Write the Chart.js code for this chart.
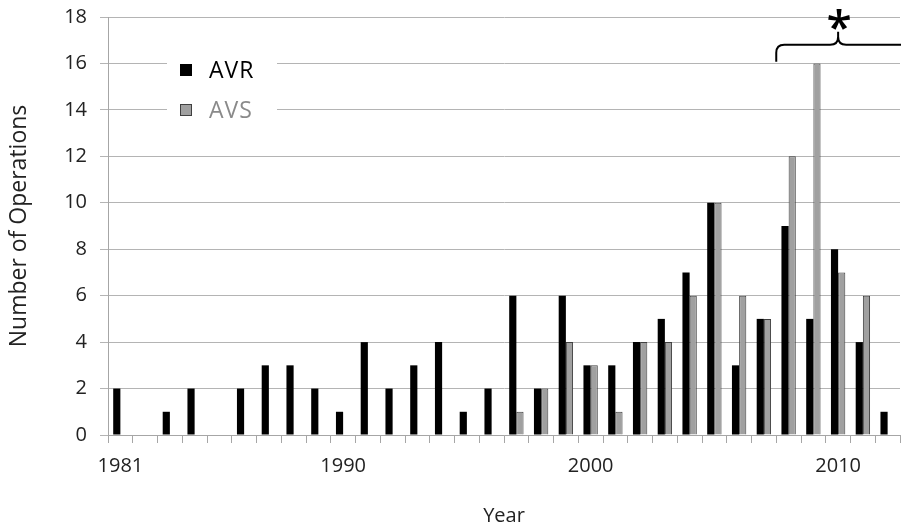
<!DOCTYPE html>
<html>
<head>
<meta charset="utf-8">
<script src="https://cdn.jsdelivr.net/npm/chart.js@4/dist/chart.umd.min.js"></script>
<style>
  html, body { margin: 0; padding: 0; background: #fff; }
  #wrap { width: 901px; height: 531px; }
</style>
</head>
<body>
<div id="wrap"><canvas id="chart"></canvas></div>
<script>
const years = ['1981','1982','1983','1984','1985','1986','1987','1988','1989','1990',
  '1991','1992','1993','1994','1995','1996','1997','1998','1999','2000',
  '2001','2002','2003','2004','2005','2006','2007','2008','2009','2010','2011','2012'];
const avr = [2,0,1,2,0,2,3,3,2,1, 4,2,3,4,1,2,6,2,6,3, 3,4,5,7,10,3,5,9,5,8,4,1];
const avs = [0,0,0,0,0,0,0,0,0,0, 0,0,0,0,0,0,1,2,4,3, 1,4,4,6,10,6,5,12,16,7,6,0];
const shownYears = ['1981', '1990', '2000', '2010'];

// bracket over 2008-2012 with the asterisk
const bracketFrom = 27;   // category index of 2008 (left edge)
const bracketTo = 31;     // category index of 2012
const bracketLevel = 16.8;

const FONT = "'Open Sans', sans-serif";

const overlay = {
  id: 'overlay',
  afterDatasetsDraw(chart) {
    const ctx = chart.ctx;
    const x = chart.scales.x, y = chart.scales.y;
    const area = chart.chartArea;
    const half = (x.getPixelForValue(1) - x.getPixelForValue(0)) / 2;

    // legend inside the plot, on white
    ctx.save();
    ctx.fillStyle = '#fff';
    ctx.fillRect(167, 50, 110, 76);
    ctx.fillStyle = '#000';
    ctx.fillRect(180, 64, 12, 12);
    ctx.fillStyle = '#a0a0a0';
    ctx.fillRect(180, 104, 12, 12);
    ctx.strokeStyle = '#404040';
    ctx.lineWidth = 1;
    ctx.strokeRect(180.5, 104.5, 11, 11);
    ctx.font = '23px ' + FONT;
    ctx.letterSpacing = '1px';
    ctx.textBaseline = 'middle';
    ctx.fillStyle = '#000';
    ctx.fillText('AVR', 209, 71);
    ctx.fillStyle = '#8a8a8a';
    ctx.fillText('AVS', 209, 111);
    ctx.letterSpacing = '0px';

    // bracket
    const x0 = x.getPixelForValue(bracketFrom) - half;
    const x1 = area.right + 2;
    const xm = (x0 + x.getPixelForValue(bracketTo) + half) / 2;
    const yl = y.getPixelForValue(bracketLevel);
    ctx.strokeStyle = '#000';
    ctx.lineWidth = 2;
    ctx.beginPath();
    ctx.moveTo(x0, yl + 17);
    ctx.lineTo(x0, yl + 8);
    ctx.quadraticCurveTo(x0, yl, x0 + 8, yl);
    ctx.lineTo(xm - 8, yl);
    ctx.quadraticCurveTo(xm, yl, xm, yl - 8);
    ctx.lineTo(xm, yl - 13);
    ctx.moveTo(xm, yl - 8);
    ctx.quadraticCurveTo(xm, yl, xm + 8, yl);
    ctx.lineTo(x1, yl);
    ctx.stroke();

    ctx.fillStyle = '#000';
    ctx.font = '600 46px ' + FONT;
    ctx.textAlign = 'center';
    ctx.textBaseline = 'middle';
    ctx.fillText('*', xm + 1, yl - 15);
    ctx.restore();
  }
};

new Chart(document.getElementById('chart'), {
  type: 'bar',
  data: {
    labels: years,
    datasets: [
      {
        label: 'AVR',
        data: avr,
        backgroundColor: '#000',
        borderWidth: 0,
        categoryPercentage: 0.58,
        barPercentage: 1.0
      },
      {
        label: 'AVS',
        data: avs,
        backgroundColor: '#a0a0a0',
        borderColor: '#404040',
        borderWidth: 1,
        categoryPercentage: 0.58,
        barPercentage: 1.0
      }
    ]
  },
  options: {
    responsive: true,
    maintainAspectRatio: false,
    animation: false,
    layout: { padding: { top: 17, right: 1 } },
    plugins: {
      legend: { display: false },
      tooltip: { enabled: false }
    },
    scales: {
      x: {
        offset: true,
        grid: {
          offset: true,
          drawOnChartArea: false,
          drawTicks: true,
          tickLength: 8,
          color: '#a6a6a6'
        },
        border: { color: '#a6a6a6', width: 1 },
        ticks: {
          autoSkip: false,
          maxRotation: 0,
          padding: 11,
          color: '#222',
          font: { family: FONT, size: 20 },
          callback: function (value) {
            const lab = this.getLabelForValue(value);
            return shownYears.includes(lab) ? lab : '';
          }
        },
        title: {
          display: true,
          text: 'Year',
          color: '#222',
          font: { family: FONT, size: 20 },
          padding: { top: 0, bottom: 3 }
        },
        afterFit(scale) { scale.height = 96; }
      },
      y: {
        min: 0,
        max: 18,
        grid: {
          color: '#b4b4b4',
          tickLength: 8
        },
        border: { color: '#a6a6a6', width: 1 },
        ticks: {
          stepSize: 2,
          padding: 13,
          color: '#222',
          font: { family: FONT, size: 20 }
        },
        title: {
          display: true,
          text: 'Number of Operations',
          color: '#222',
          font: { family: FONT, size: 23 },
          padding: { top: 6, bottom: 0 }
        },
        afterFit(scale) {
          scale.width = 108;
          scale.paddingTop = 0;
          scale.paddingBottom = 0;
        }
      }
    }
  },
  plugins: [overlay]
});
</script>
</body>
</html>
